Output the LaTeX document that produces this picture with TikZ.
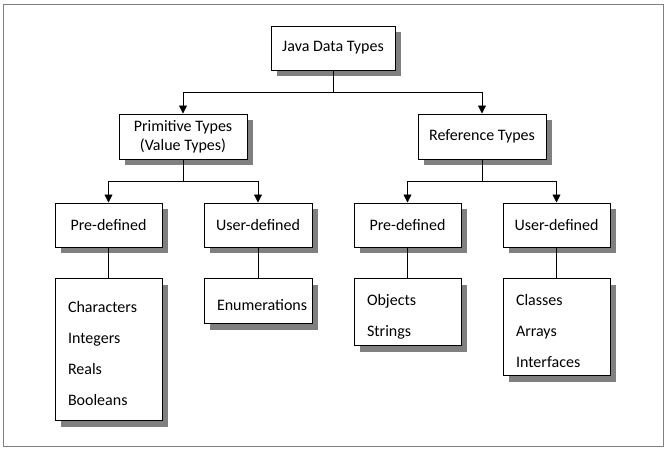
\documentclass[tikz,border=0pt]{standalone}
\usepackage{fontspec}
\setmainfont{Carlito}
\usetikzlibrary{arrows.meta,shadows}

\begin{document}
\begin{tikzpicture}[x=0.75pt,y=0.75pt,yscale=-1,xscale=1,
  box/.style={draw,fill=white,line width=0.75pt,inner sep=0pt,align=center,
    drop shadow={shadow xshift=4.5pt,shadow yshift=-4.5pt,fill=black!50,opacity=1},
    font=\fontsize{12}{14.5}\selectfont},
  listbox/.style={box,align=left,inner xsep=9.75pt,text width=60.75pt,anchor=north,
    execute at begin node={\rule{0pt}{15pt}}},
  arr/.style={-{Triangle[length=6pt,width=6pt]},line width=0.6pt},
  link/.style={line width=0.6pt}]
\useasboundingbox (0,0) rectangle (666,450);

%Frame
\draw [color=black!50,line width=0.75pt] (3,4) rectangle (663,446);

% Root
\node [box,minimum width=93pt,minimum height=33pt] (java) at (333,48) {Java Data Types};
% Second row
\node [box,minimum width=96pt,minimum height=33.75pt] (prim) at (183,136.5) {Primitive Types\\(Value Types)};
\node [box,minimum width=96pt,minimum height=33.75pt] (ref) at (482,136.5) {Reference Types};
% Third row
\node [box,minimum width=80.25pt,minimum height=33pt] (primpre) at (108.5,225) {Pre-defined};
\node [box,minimum width=81pt,minimum height=33pt] (primuser) at (258,225) {User-defined};
\node [box,minimum width=80.25pt,minimum height=33pt] (refpre) at (407.5,225) {Pre-defined};
\node [box,minimum width=80.25pt,minimum height=33pt] (refuser) at (556.5,225) {User-defined};
% Lists
\node [listbox,minimum height=106.5pt] (primprelist) at (108.5,278) {Characters\\[8.75pt]Integers\\[8.75pt]Reals\\[8.75pt]Booleans};
\node [listbox,minimum height=33.75pt,text width=61.5pt] (primuserlist) at (258,278) {Enumerations};
\node [listbox,minimum height=50.25pt] (refprelist) at (407.5,278) {Objects\\[8.75pt]Strings};
\node [listbox,minimum height=72.75pt] (refuserlist) at (556.5,278) {Classes\\[8.75pt]Arrays\\[8.75pt]Interfaces};

%Connectors
\draw [arr] (java.south) -- ++(0,22) -| (prim.north);
\draw [arr] (java.south) -- ++(0,22) -| (ref.north);
\draw [arr] (prim.south) -- ++(0,22) -| (primpre.north);
\draw [arr] (prim.south) -- ++(0,22) -| (primuser.north);
\draw [arr] (ref.south) -- ++(0,22) -| (refpre.north);
\draw [arr] (ref.south) -- ++(0,22) -| (refuser.north);
\draw [link] (primpre) -- (primprelist);
\draw [link] (primuser) -- (primuserlist);
\draw [link] (refpre) -- (refprelist);
\draw [link] (refuser) -- (refuserlist);

\end{tikzpicture}
\end{document}
